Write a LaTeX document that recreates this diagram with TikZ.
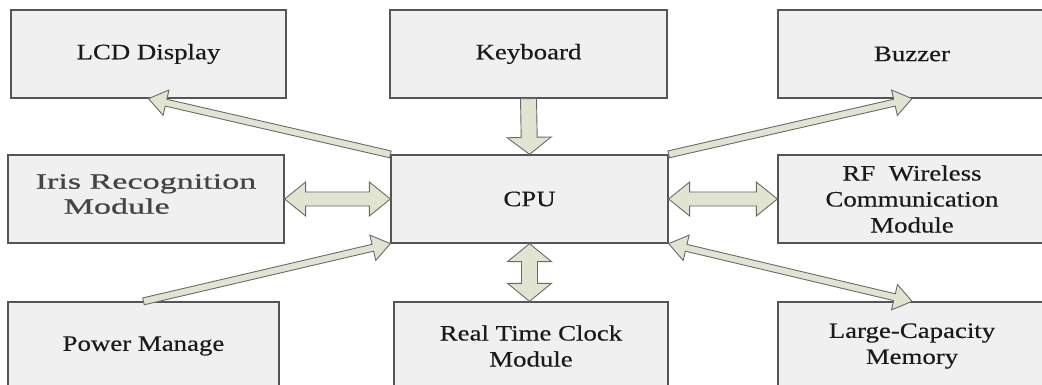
\documentclass[tikz,border=0pt]{standalone}
\usepackage{fontspec}
\setmainfont{Liberation Serif}[FakeStretch=1.22, FakeBold=0.4]
\newfontfamily\irisfont{Liberation Serif}[FakeStretch=1.55, FakeBold=0.8]
\usetikzlibrary{calc}
\definecolor{boxfill}{HTML}{F0F0F0}
\definecolor{boxdraw}{HTML}{555555}
\definecolor{arrfill}{HTML}{E2E4D2}
\definecolor{arrdraw}{HTML}{6A6A6A}
\definecolor{txt}{HTML}{1A1A1A}
\definecolor{iristxt}{HTML}{444444}
\tikzset{
  blk/.style={draw=boxdraw, fill=boxfill, line width=1.3pt, inner sep=0pt,
    minimum height=88pt, align=center, text=txt,
    font=\fontsize{22}{26}\selectfont},
  arrowsty/.style={draw=arrdraw, fill=arrfill, line width=0.9pt, line join=miter}
}
\newcommand\sglarrow[5]{%
  \coordinate (hA) at ($(#2)!#5!(#1)$);
  \draw[arrowsty] ($(#1)!#3!90:(#2)$) -- ($(hA)!#3!90:(#2)$) -- ($(hA)!#4!90:(#2)$)
    -- (#2) -- ($(hA)!#4!-90:(#2)$) -- ($(hA)!#3!-90:(#2)$) -- ($(#1)!#3!-90:(#2)$) -- cycle;}
\newcommand\dblarrow[5]{%
  \coordinate (hA) at ($(#1)!#5!(#2)$);
  \coordinate (hB) at ($(#2)!#5!(#1)$);
  \draw[arrowsty] (#1) -- ($(hA)!#4!90:(#2)$) -- ($(hA)!#3!90:(#2)$) -- ($(hB)!#3!90:(#2)$)
    -- ($(hB)!#4!90:(#2)$) -- (#2) -- ($(hB)!#4!-90:(#2)$) -- ($(hB)!#3!-90:(#2)$)
    -- ($(hA)!#3!-90:(#2)$) -- ($(hA)!#4!-90:(#2)$) -- cycle;}
\begin{document}
\begin{tikzpicture}[x=1pt,y=-1pt]
\fill[white] (0,0) rectangle (1042,385);
\useasboundingbox (0,0) rectangle (1042,385);
% boxes
\node[blk, minimum width=275pt] (lcd) at (148.5,54) {LCD Display};
\node[blk, minimum width=277pt] (kb) at (528.5,54) {Keyboard};
\node[blk, minimum width=268pt] (bz) at (912,54) {Buzzer};
\node[blk, minimum width=276pt] (iris) at (146,199)
  {\irisfont\color{iristxt}\begin{tabular}{@{}l@{}}Iris Recognition\\[-1pt]\hspace*{28pt}Module\\[6pt]\end{tabular}};
\node[blk, minimum width=277pt] (cpu) at (529.5,199) {CPU};
\node[blk, minimum width=268pt] (rf) at (912,199) {RF\ \ Wireless\\Communication\\Module};
\node[blk, minimum width=271pt] (pw) at (143.5,346) {Power Manage};
\node[blk, minimum width=274pt] (rtc) at (531,346) {Real Time Clock\\Module};
\node[blk, minimum width=268pt] (mem) at (912,346) {Large-Capacity\\Memory};
% connectors
\sglarrow{cpu.north west}{lcd.south}{3.5pt}{13pt}{18pt}
\sglarrow{kb.south}{cpu.north}{8pt}{22pt}{17pt}
\sglarrow{cpu.north east}{bz.south}{3.5pt}{13pt}{18pt}
\dblarrow{iris.east}{cpu.west}{7pt}{17pt}{21pt}
\dblarrow{cpu.east}{rf.west}{7pt}{17pt}{21pt}
\sglarrow{pw.north}{cpu.south west}{3.5pt}{13pt}{18pt}
\dblarrow{cpu.south}{cpu.south |- rtc.north}{8pt}{22pt}{18pt}
\dblarrow{cpu.south east}{mem.north}{3.5pt}{13pt}{18pt}
\end{tikzpicture}
\end{document}
